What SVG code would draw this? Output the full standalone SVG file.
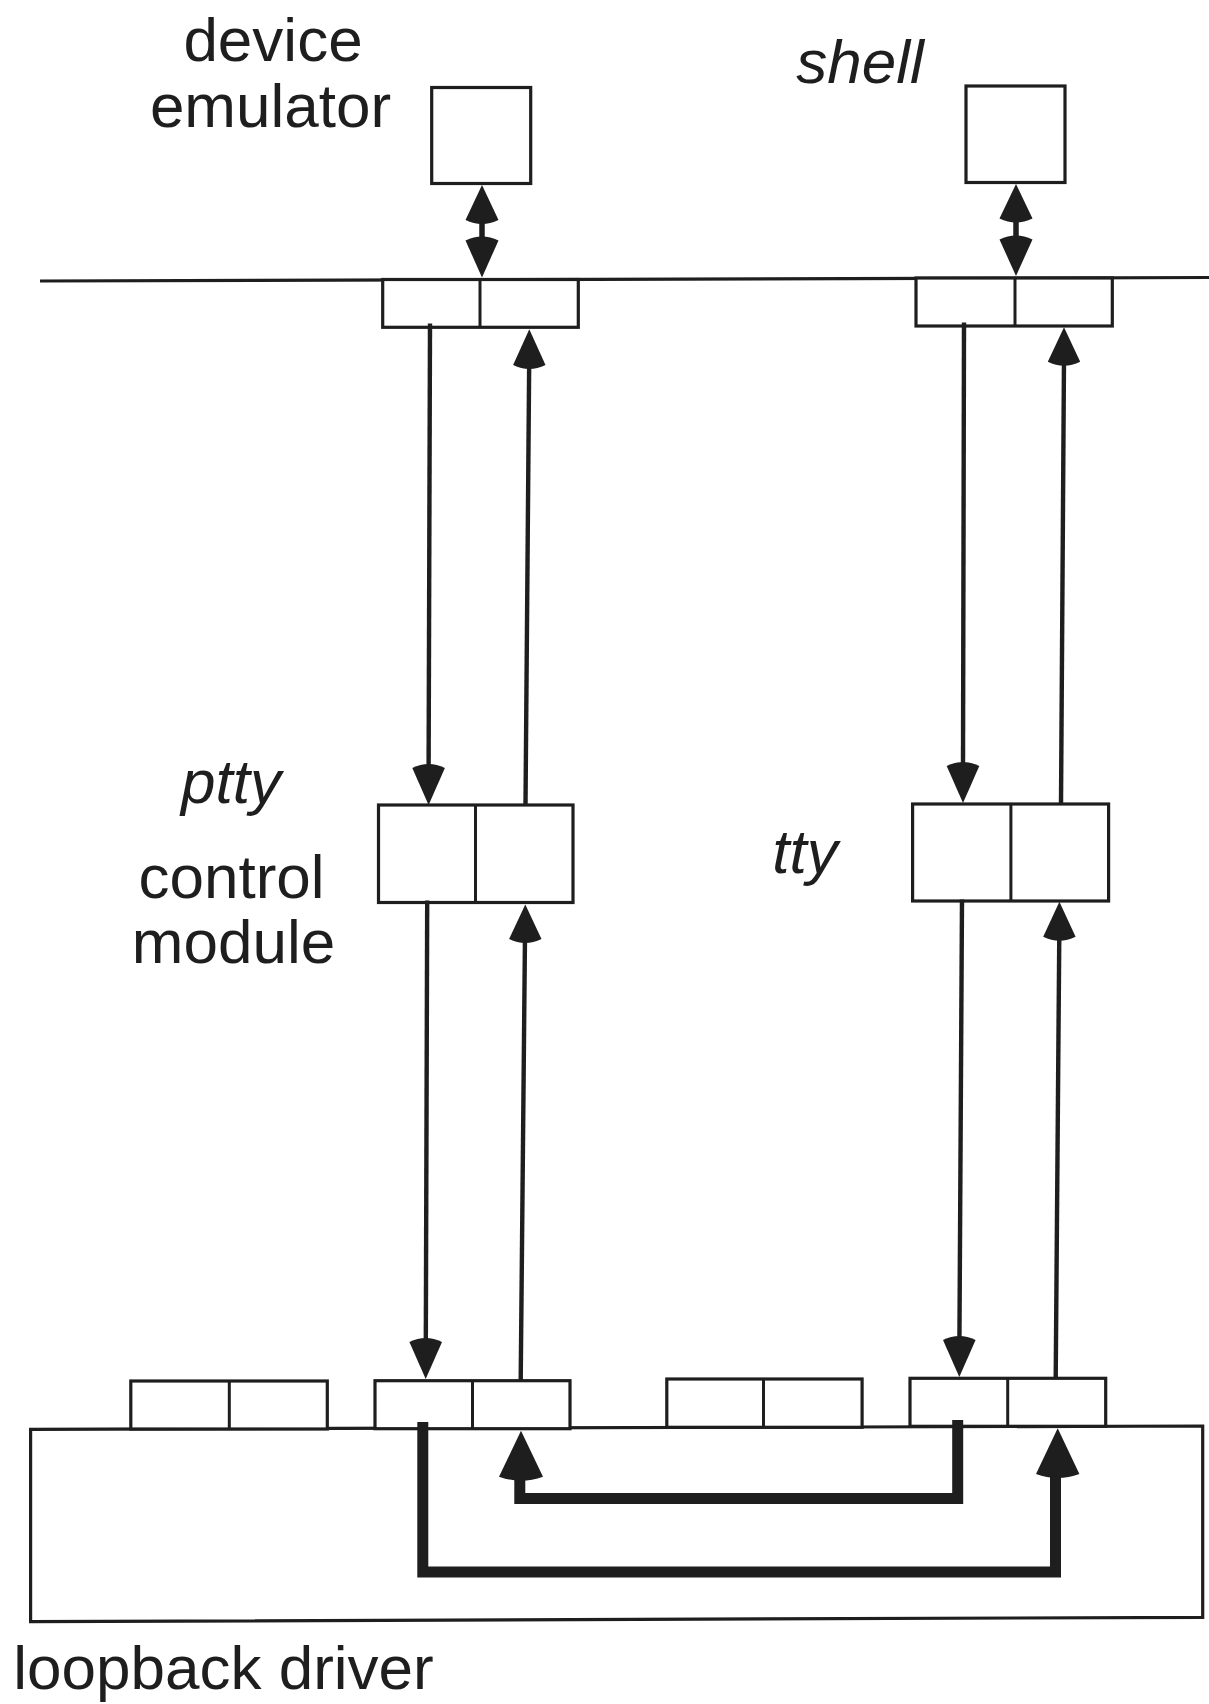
<svg xmlns="http://www.w3.org/2000/svg" width="1209" height="1704" viewBox="0 0 1209 1704">
<style>
.box{fill:#fff;stroke:#1e1e1e;stroke-width:3.2}
.div{stroke:#1e1e1e;stroke-width:3}
.base{fill:none;stroke:#1e1e1e;stroke-width:3.2}
.thin{fill:none;stroke:#1e1e1e;stroke-width:4.4}
.dbl{fill:none;stroke:#1e1e1e;stroke-width:5.5}
.thick{fill:none;stroke:#1e1e1e;stroke-width:11;stroke-linejoin:miter}
.head{fill:#1e1e1e}
.lbl{font-family:"Liberation Sans",Arial,Helvetica,sans-serif;font-size:62px;fill:#1e1e1e}
.it{font-style:italic}
</style>
<rect width="1209" height="1704" fill="#fff"/>

<g id="baseline-upper">
<line class="base" x1="40" y1="281" x2="1209" y2="277.5"/>
</g>

<g id="device-emulator">
<rect class="box" x="431.7" y="87.5" width="99" height="96"/>
<text class="lbl" x="273" y="61" text-anchor="middle">device</text>
<text class="lbl" x="270.5" y="127" text-anchor="middle">emulator</text>
</g>

<g id="shell">
<rect class="box" x="966" y="86" width="99" height="96.5"/>
<text class="lbl it" x="860" y="83" text-anchor="middle">shell</text>
</g>

<g id="ptty-stream-head">
<rect class="box" x="382.7" y="279.5" width="195.6" height="47.8"/>
<line class="div" x1="480" y1="279.5" x2="480" y2="327.3"/>
</g>

<g id="tty-stream-head">
<rect class="box" x="916" y="278" width="196.3" height="48"/>
<line class="div" x1="1015" y1="278" x2="1015" y2="326"/>
</g>

<g id="ptty-control-module">
<rect class="box" x="378.5" y="805" width="194.5" height="97.5"/>
<line class="div" x1="475.5" y1="805" x2="475.5" y2="902.5"/>
<text class="lbl it" x="231" y="803" text-anchor="middle">ptty</text>
<text class="lbl" x="231.5" y="898" text-anchor="middle">control</text>
<text class="lbl" x="233.5" y="963" text-anchor="middle">module</text>
</g>

<g id="tty-module">
<rect class="box" x="912.6" y="804" width="196" height="97"/>
<line class="div" x1="1010.9" y1="804" x2="1010.9" y2="901"/>
<text class="lbl it" x="805" y="873" text-anchor="middle">tty</text>
</g>

<g id="loopback-driver">
<polygon class="box" points="30.6,1429.3 1202.7,1426 1202.7,1617.3 30.6,1621.7"/>
<rect class="box" x="130.8" y="1381" width="196.5" height="48"/>
<line class="div" x1="229.3" y1="1381" x2="229.3" y2="1429"/>
<rect class="box" x="375" y="1380.7" width="195" height="48"/>
<line class="div" x1="472.5" y1="1380.7" x2="472.5" y2="1428.5"/>
<rect class="box" x="666.8" y="1379" width="195.3" height="48.3"/>
<line class="div" x1="763.5" y1="1379" x2="763.5" y2="1427.3"/>
<rect class="box" x="910" y="1378.3" width="195.7" height="48"/>
<line class="div" x1="1007.7" y1="1378.3" x2="1007.7" y2="1426.3"/>
<text class="lbl" x="223.5" y="1689" text-anchor="middle">loopback driver</text>
</g>

<g id="connectors">
<line class="dbl" x1="482" y1="215" x2="482" y2="245"/>
<path class="head" d="M482,185 L498.5,220 Q482,228 465.5,220 Z"/>
<path class="head" d="M482,277.5 L465.5,240.5 Q482,232.5 498.5,240.5 Z"/>
<line class="dbl" x1="1016" y1="214" x2="1016" y2="244"/>
<path class="head" d="M1016,184 L1032.5,218.5 Q1016,226.5 999.5,218.5 Z"/>
<path class="head" d="M1016,276 L999.5,239.5 Q1016,231.5 1032.5,239.5 Z"/>

<line class="thin" x1="430" y1="323.5" x2="428.6" y2="772"/>
<path class="head" d="M428.6,805 L412.3,768 Q428.6,760 444.9,768 Z"/>
<line class="thin" x1="525.5" y1="805" x2="529.2" y2="360"/>
<path class="head" d="M529.3,329.3 L545.5,365 Q529.3,373 513.1,365 Z"/>
<line class="thin" x1="427.2" y1="900.5" x2="425.8" y2="1346"/>
<path class="head" d="M425.7,1379 L409.4,1342 Q425.7,1334 442,1342 Z"/>
<line class="thin" x1="520.7" y1="1381" x2="525" y2="935"/>
<path class="head" d="M525.3,904.5 L541.5,939 Q525.3,947 509.1,939 Z"/>

<line class="thin" x1="964" y1="322.5" x2="963" y2="770"/>
<path class="head" d="M963,803 L946.7,766 Q963,758 979.3,766 Z"/>
<line class="thin" x1="1061" y1="804" x2="1064" y2="358"/>
<path class="head" d="M1064,327.3 L1080.2,361.7 Q1064,369.7 1047.8,361.7 Z"/>
<line class="thin" x1="962" y1="899.5" x2="959.4" y2="1344"/>
<path class="head" d="M959.3,1377 L943,1340 Q959.3,1332 975.6,1340 Z"/>
<line class="thin" x1="1055.7" y1="1378.3" x2="1059.3" y2="933"/>
<path class="head" d="M1059.4,901.8 L1075.6,936.7 Q1059.4,944.7 1043.2,936.7 Z"/>

<path class="thick" d="M422.8,1422 V1572 H1055.5 V1468"/>
<path class="head" d="M1057.7,1428.3 L1079.4,1474 Q1057.7,1482 1036,1474 Z"/>
<path class="thick" d="M957.7,1420 V1498.5 H519.8 V1470"/>
<path class="head" d="M521,1430.7 L543,1476.7 Q521,1484.7 499,1476.7 Z"/>
</g>
</svg>
